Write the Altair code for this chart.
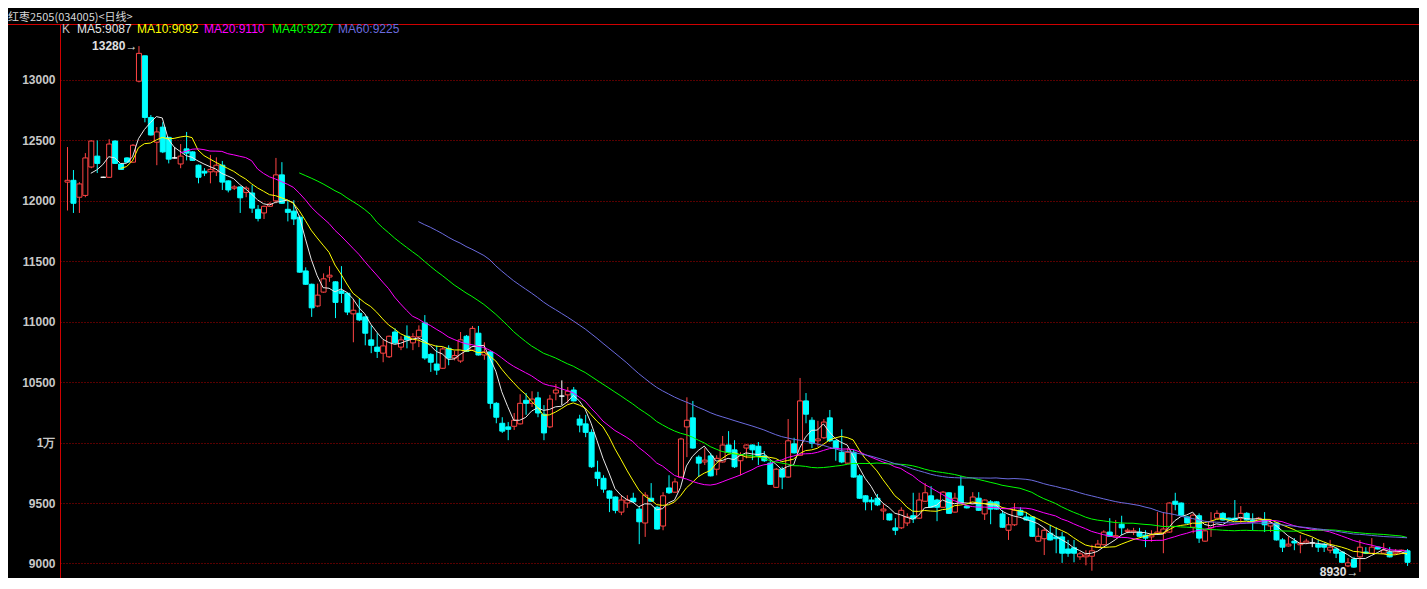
import altair as alt
import pandas as pd

# ---- data (daily candles, oldest first) ----
opens = [12155,12170,12030,12045,12280,12370,12195,12195,12495,12305,12355,12320,12990,13200,12690,12485,12610,12525,12355,12305,
         12430,12405,12295,12245,12240,12240,12295,12165,12105,12115,12070,12065,11930,11900,11955,12000,12215,11930,11915,11865,
         11420,11310,11130,11245,11370,11330,11255,11235,11065,11070,11040,10850,10790,10740,10710,10915,10790,10880,10825,10875,
         10990,10730,10650,10615,10780,10700,10675,10880,10765,10905,10725,10750,10325,10160,10130,10135,10155,10350,10325,10370,
         10235,10130,10410,10385,10395,10435,10195,10155,10085,9755,9705,9600,9550,9425,9500,9540,9450,9335,9540,9465,
         9310,9625,9590,9715,10130,10205,9880,9840,9890,9780,9840,9980,9940,9850,9955,9980,9970,9890,9830,9630,
         9780,9715,9990,9895,10345,10185,10015,10040,10205,10015,9920,9830,9920,9725,9560,9525,9540,9435,9410,9295,
         9295,9335,9395,9375,9515,9560,9525,9465,9585,9425,9640,9475,9500,9540,9410,9510,9510,9410,9275,9320,
         9440,9385,9385,9185,9205,9250,9220,9220,9120,9130,9055,9055,9060,9135,9155,9260,9220,9325,9265,9260,
         9260,9235,9220,9245,9250,9260,9515,9500,9385,9300,9395,9185,9295,9375,9415,9375,9375,9375,9415,9360,
         9350,9360,9310,9335,9195,9145,9185,9155,9170,9170,9160,9160,9110,9120,9095,8980,9035,9055,9095,9085,
         9135,9085,9095,9085,9085,9105]
highs = [12445,12255,12155,12395,12500,12500,12200,12510,12500,12310,12360,12470,13280,13200,12710,12610,12650,12530,12445,12470,
         12570,12410,12300,12270,12380,12360,12330,12170,12130,12120,12120,12130,11965,11960,11990,12355,12320,12005,12005,11880,
         11450,11315,11315,11400,11460,11335,11460,11245,11185,11195,11045,10970,10905,10850,10885,10945,10880,10970,10905,10970,
         11055,10740,10805,10790,10805,10760,10915,10890,10965,10965,10830,10755,10335,10210,10170,10245,10400,10410,10425,10420,
         10310,10395,10485,10515,10460,10460,10230,10230,10110,9850,9730,9605,9555,9565,9565,9585,9475,9590,9665,9475,
         9590,9730,9705,10040,10375,10345,9895,9955,9915,9895,10055,10095,10020,9920,9985,9985,10005,9930,9855,9790,
         9800,10195,10040,10535,10410,10210,10180,10195,10270,10020,10110,9955,9940,9740,9565,9550,9575,9490,9415,9375,
         9465,9415,9585,9585,9665,9640,9535,9600,9590,9585,9725,9480,9590,9590,9530,9525,9515,9440,9385,9500,
         9465,9425,9390,9295,9295,9320,9300,9260,9195,9195,9095,9110,9155,9195,9275,9375,9360,9395,9290,9295,
         9295,9275,9275,9425,9425,9505,9585,9505,9390,9415,9415,9275,9425,9440,9425,9380,9525,9475,9425,9415,
         9385,9425,9360,9340,9210,9220,9210,9235,9205,9210,9195,9170,9195,9130,9100,9045,9055,9195,9135,9210,
         9140,9170,9135,9120,9115,9120]
lows = [11920,11900,11900,12030,12270,12230,12190,12190,12305,12255,12315,12315,12980,12650,12540,12295,12395,12310,12350,12270,
        12335,12330,12145,12205,12145,12205,12090,12070,12090,11900,12030,11900,11830,11850,11950,11980,11975,11830,11800,11405,
        11305,11040,11120,11240,11330,11030,11155,11055,10830,11005,10805,10740,10700,10665,10700,10815,10765,10780,10765,10790,
        10685,10585,10560,10610,10640,10680,10660,10750,10760,10720,10685,10280,10160,10080,10020,10105,10150,10230,10295,10210,
        10020,10120,10350,10310,10325,10340,10085,10045,9790,9640,9585,9425,9415,9400,9460,9500,9160,9220,9510,9280,
        9275,9575,9585,9710,9880,9950,9715,9815,9720,9730,9835,9915,9790,9730,9870,9855,9815,9840,9650,9625,
        9615,9710,9910,9890,10160,9955,9965,10030,10005,9850,9830,9825,9710,9535,9440,9440,9475,9360,9355,9235,
        9285,9310,9335,9370,9510,9460,9350,9460,9410,9420,9495,9455,9495,9435,9360,9325,9445,9295,9195,9310,
        9395,9355,9220,9180,9070,9190,9085,9005,9055,9010,9030,8985,8940,9130,9150,9220,9215,9235,9250,9235,
        9220,9135,9180,9240,9085,9255,9440,9395,9330,9250,9170,9180,9220,9370,9355,9355,9355,9335,9355,9275,
        9345,9260,9260,9190,9095,9140,9110,9085,9160,9135,9095,9095,9085,9045,9005,8970,8965,8930,9080,9080,
        9115,9080,9050,9080,9080,8980]
closes = [12170,11980,12140,12355,12495,12310,12195,12470,12310,12260,12320,12460,13220,12690,12545,12570,12405,12345,12355,12370,
          12395,12335,12195,12230,12260,12295,12155,12090,12115,12025,12105,11940,11855,11955,11975,12215,11980,11905,11850,11410,
          11310,11115,11220,11355,11385,11160,11235,11080,11095,11015,10905,10805,10755,10800,10880,10825,10850,10850,10875,10930,
          10700,10665,10600,10775,10700,10720,10850,10755,10945,10725,10750,10325,10210,10095,10110,10185,10325,10325,10360,10245,
          10080,10360,10435,10385,10425,10345,10145,10085,9800,9705,9615,9540,9440,9525,9525,9510,9345,9565,9515,9285,
          9560,9585,9675,10030,10185,9955,9830,9855,9725,9870,9980,9920,9800,9895,9980,9940,9890,9850,9655,9780,
          9715,10015,9915,10345,10235,9995,10030,10170,10015,9955,9840,9920,9715,9540,9510,9510,9485,9450,9360,9275,
          9440,9385,9370,9525,9585,9465,9465,9590,9415,9540,9500,9460,9550,9440,9525,9450,9450,9300,9320,9440,
          9400,9360,9225,9225,9275,9195,9205,9085,9085,9085,9080,9070,9105,9160,9260,9225,9230,9295,9275,9270,
          9225,9210,9235,9260,9285,9500,9490,9400,9335,9400,9210,9270,9345,9415,9360,9360,9360,9415,9360,9345,
          9375,9320,9335,9195,9135,9160,9170,9170,9185,9170,9135,9135,9135,9085,9010,9005,8970,9135,9085,9135,
          9120,9110,9055,9095,9110,9010]

y_ticks = [9000, 9500, 10000, 10500, 11000, 11500, 12000, 12500, 13000]
header_text = "红枣2505(034005)<日线>"
legend_labels = ["K", "MA5:9087", "MA10:9092", "MA20:9110", "MA40:9227", "MA60:9225"]
ma_periods = [5, 10, 20, 40, 60]

# ---- styles ----
legend_colors = ["#c0c0c0", "#e6e6e6", "#ffff00", "#ff00ff", "#00ff00", "#6b6bdf"]
legend_px = [2, 17, 77, 144, 212, 278]
ma_colors = ["#e8e8e8", "#ffff00", "#ff00ff", "#00ff00", "#6b6bdf"]
UP, DOWN, FLAT = "#ff4444", "#00ffff", "#ffffff"
GRID = "#b00000"
FRAME = "#d00000"

n = len(closes)
df = pd.DataFrame({"i": list(range(n)), "open": opens, "high": highs, "low": lows, "close": closes})
df["dir"] = ["up" if c > o else ("down" if c < o else "flat") for o, c in zip(opens, closes)]

W, H = 1359, 554
xs = alt.Scale(domain=[-1 / 3, 226 + 1 / 6], nice=False, zero=False)
ys = alt.Scale(domain=[8880, 13463], nice=False, zero=False)
X = alt.X("i:Q", scale=xs, axis=None, title=None)
dirs = ["up", "down", "flat"]

base = alt.Chart(df)

wick = base.mark_rule(strokeWidth=1, xOffset=0.5).encode(
    x=X,
    y=alt.Y("low:Q", scale=ys, title=None, axis=alt.Axis(
        values=y_ticks, format="d",
        labelExpr="datum.value == 10000 ? '1万' : datum.label",
        grid=True, gridColor=GRID, gridDash=[1, 2], gridWidth=1,
        ticks=False, domain=True, domainColor=FRAME, domainWidth=1,
        labelColor="#c8c8c8", labelFontSize=12, labelFont="Liberation Sans",
        labelFontWeight="bold", labelPadding=5)),
    y2="high:Q",
    stroke=alt.Stroke("dir:N", scale=alt.Scale(domain=dirs, range=[UP, DOWN, FLAT]), legend=None),
)

body = base.mark_bar(size=5, strokeWidth=1, xOffset=0.5).encode(
    x=X,
    y=alt.Y("open:Q", scale=ys, title=None),
    y2="close:Q",
    fill=alt.Fill("dir:N", scale=alt.Scale(domain=dirs, range=["#000000", DOWN, FLAT]), legend=None),
    stroke=alt.Stroke("dir:N", scale=alt.Scale(domain=dirs, range=[UP, DOWN, FLAT]), legend=None),
)

ma_layers = []
for p, col in zip(ma_periods, ma_colors):
    ma_layers.append(
        base.transform_window(ma="mean(close)", cnt="count()", frame=[-(p - 1), 0],
                              sort=[alt.SortField("i")])
        .transform_filter(alt.datum.cnt == p)
        .mark_line(color=col, strokeWidth=1)
        .encode(x=X, y=alt.Y("ma:Q", scale=ys, title=None))
    )

# extreme annotations
hi_i = int(df["high"].idxmax())
lo_i = int(df["low"].idxmin())
ann = pd.DataFrame({
    "i": [hi_i, lo_i],
    "v": [highs[hi_i], lows[lo_i]],
    "t": [f"{highs[hi_i]}→", f"{lows[lo_i]}→"],
})
ann_layer = alt.Chart(ann).mark_text(align="right", baseline="middle", dx=-1, fontSize=12,
                                     font="Liberation Sans", fontWeight="bold", color="#e0e0e0").encode(
    x=X, y=alt.Y("v:Q", scale=ys, title=None), text="t:N")

# frame line at the top
top_line = alt.Chart(pd.DataFrame({"a": [0]})).mark_rule(color=FRAME, strokeWidth=1).encode(
    x=alt.value(-52), x2=alt.value(W), y=alt.value(0.5))

header = alt.Chart(pd.DataFrame({"t": [header_text]})).mark_text(
    align="left", baseline="alphabetic", fontSize=11, font="Noto Sans CJK SC", color="#d8d8d8").encode(
    x=alt.value(-52), y=alt.value(-3), text="t:N")

legend_layers = []
for lab, col, px in zip(legend_labels, legend_colors, legend_px):
    legend_layers.append(
        alt.Chart(pd.DataFrame({"t": [lab]})).mark_text(
            align="left", baseline="middle", fontSize=12, font="Liberation Sans", color=col).encode(
            x=alt.value(px), y=alt.value(5), text="t:N"))

chart = alt.layer(wick, body, *ma_layers, ann_layer, top_line, header, *legend_layers).properties(
    width=W, height=H,
    padding={"left": 52, "top": 16, "right": 0, "bottom": 0},
    autosize=alt.AutoSizeParams(type="none"),
    background="#000000",
).configure_view(stroke=None)

chart.save("out.html", embed_options={"renderer": "svg", "actions": False})
